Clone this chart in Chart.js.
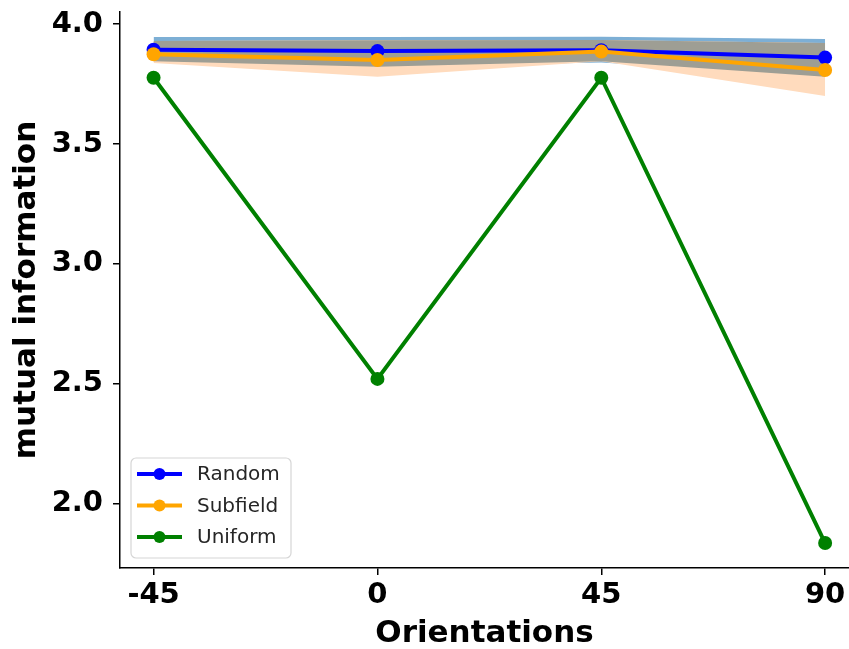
<!DOCTYPE html>
<html>
<head>
<meta charset="utf-8">
<script src="https://cdn.jsdelivr.net/npm/chart.js@4.4.1/dist/chart.umd.min.js"></script>
<style>
html,body{margin:0;padding:0;background:#fff;}
#wrap{width:849px;height:649px;}
</style>
</head>
<body>
<div id="wrap"><canvas id="c" width="849" height="649"></canvas></div>
<script>
// ---- data ----
const orientations = [-45, 0, 45, 90];
const xTickLabels = ['-45', '0', '45', '90'];
const yTickValues = [2.0, 2.5, 3.0, 3.5, 4.0];
const seriesNames = ['Random', 'Subfield', 'Uniform'];
const randomMI   = [3.893, 3.887, 3.891, 3.860];
const subfieldMI = [3.874, 3.850, 3.885, 3.808];
const uniformMI  = [3.776, 2.521, 3.776, 1.837];
const randomUpper   = [3.946, 3.946, 3.947, 3.937];
const randomLower   = [3.845, 3.822, 3.840, 3.780];
const subfieldUpper = [3.929, 3.932, 3.933, 3.921];
const subfieldLower = [3.837, 3.780, 3.845, 3.700];

const overlapUpper = randomUpper.map((v, i) => Math.min(v, subfieldUpper[i]));
const overlapLower = randomLower.map((v, i) => Math.max(v, subfieldLower[i]));

const pts = arr => orientations.map((x, i) => ({x: x, y: arr[i]}));
const FONT = "'DejaVu Sans', sans-serif";

function band(data, color, order, fillTarget) {
  return {
    data: pts(data), order: order, fill: fillTarget, backgroundColor: color,
    borderColor: 'rgba(0,0,0,0)', borderWidth: 0, pointRadius: 0, pointHoverRadius: 0,
    tension: 0
  };
}
function series(label, data, color, order) {
  return {
    label: label, data: pts(data), order: order, borderColor: color, backgroundColor: color,
    borderWidth: 4, pointRadius: 7, pointHoverRadius: 7, pointBorderWidth: 0,
    pointBackgroundColor: color, fill: false, tension: 0, clip: false
  };
}

const seriesColors = ['#0000ff', '#ffa500', '#008000'];

const legendPlugin = {
  id: 'innerLegend',
  afterDraw(chart) {
    const ctx = chart.ctx;
    const x0 = 131, y0 = 458, w = 160, h = 100, r = 5;
    ctx.save();
    ctx.beginPath();
    ctx.moveTo(x0 + r, y0);
    ctx.arcTo(x0 + w, y0, x0 + w, y0 + h, r);
    ctx.arcTo(x0 + w, y0 + h, x0, y0 + h, r);
    ctx.arcTo(x0, y0 + h, x0, y0, r);
    ctx.arcTo(x0, y0, x0 + w, y0, r);
    ctx.closePath();
    ctx.fillStyle = 'rgba(255,255,255,0.8)';
    ctx.fill();
    ctx.strokeStyle = '#d6d6d6';
    ctx.lineWidth = 1.2;
    ctx.stroke();
    const rows = [474, 505.5, 537];
    seriesNames.forEach((name, i) => {
      const y = rows[i];
      ctx.strokeStyle = seriesColors[i];
      ctx.lineWidth = 4;
      ctx.beginPath();
      ctx.moveTo(137, y);
      ctx.lineTo(182, y);
      ctx.stroke();
      ctx.fillStyle = seriesColors[i];
      ctx.beginPath();
      ctx.arc(159.5, y, 6, 0, Math.PI * 2);
      ctx.fill();
      ctx.fillStyle = '#262626';
      ctx.font = '20px ' + FONT;
      ctx.textBaseline = 'middle';
      ctx.textAlign = 'left';
      ctx.fillText(name, 197, y + 1);
    });
    ctx.restore();
  }
};

function zeroPad(s) { s.paddingTop = 0; s.paddingBottom = 0; s.paddingLeft = 0; s.paddingRight = 0; }

new Chart(document.getElementById('c'), {
  type: 'line',
  data: {
    datasets: [
      band(randomUpper, 'rgb(125,175,213)', 20, '+1'),
      band(randomLower, 'rgb(125,175,213)', 20, false),
      band(subfieldUpper, 'rgb(255,219,189)', 19, '+1'),
      band(subfieldLower, 'rgb(255,219,189)', 19, false),
      band(overlapUpper, 'rgb(158,158,148)', 18, '+1'),
      band(overlapLower, 'rgb(158,158,148)', 18, false),
      series(seriesNames[0], randomMI, seriesColors[0], 3),
      series(seriesNames[1], subfieldMI, seriesColors[1], 2),
      series(seriesNames[2], uniformMI, seriesColors[2], 1)
    ]
  },
  options: {
    responsive: false,
    animation: false,
    devicePixelRatio: 1,
    layout: {autoPadding: false, padding: {top: 12, right: 0, left: 0, bottom: 0}},
    plugins: {legend: {display: false}, tooltip: {enabled: false}},
    scales: {
      x: {
        type: 'linear', position: 'bottom', min: -51.75, max: 94.8,
        afterBuildTicks: s => { s.ticks = orientations.map(v => ({value: v})); },
        afterFit: s => { s.height = 81; zeroPad(s); },
        ticks: {
          callback: (v) => xTickLabels[orientations.indexOf(v)],
          font: {family: FONT, size: 29, weight: 'bold'}, color: '#000', padding: 3,
          maxRotation: 0, autoSkip: false
        },
        grid: {display: true, drawOnChartArea: false, drawTicks: true, tickLength: 7, color: '#000', lineWidth: 1.5},
        border: {display: true, color: '#000', width: 1.5},
        title: {display: true, text: 'Orientations', color: '#000',
          font: {family: FONT, size: 31, weight: 'bold', lineHeight: 1}, padding: {top: 0, bottom: 0}}
      },
      y: {
        type: 'linear', position: 'left', min: 1.733, max: 4.05,
        afterBuildTicks: s => { s.ticks = yTickValues.map(v => ({value: v})); },
        afterFit: s => { s.width = 120; zeroPad(s); },
        ticks: {
          callback: v => Number(v).toFixed(1),
          font: {family: FONT, size: 29, weight: 'bold'}, color: '#000', padding: 10
        },
        grid: {display: true, drawOnChartArea: false, drawTicks: true, tickLength: 7, color: '#000', lineWidth: 1.5},
        border: {display: true, color: '#000', width: 1.5},
        title: {display: true, text: 'mutual information', color: '#000',
          font: {family: FONT, size: 31, weight: 'bold', lineHeight: 1}, padding: {top: 11, bottom: 0}}
      }
    }
  },
  plugins: [legendPlugin]
});
</script>
</body>
</html>
